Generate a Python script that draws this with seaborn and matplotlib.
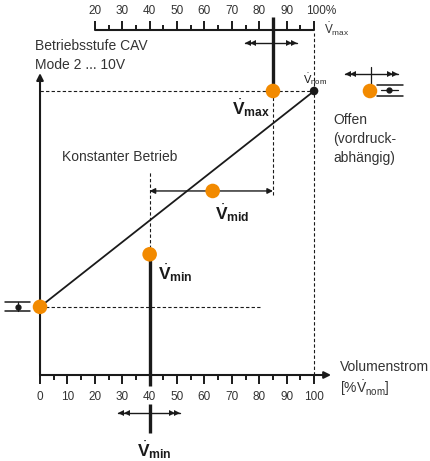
import numpy as np
import pandas as pd
import seaborn as sns
import matplotlib
matplotlib.use("Agg")
import matplotlib.pyplot as plt

sns.set_theme(style="white")
plt.rcParams['font.family'] = ['Liberation Sans', 'DejaVu Sans']
plt.rcParams['mathtext.fontset'] = 'custom'
plt.rcParams['mathtext.rm'] = 'Liberation Sans'
plt.rcParams['mathtext.bf'] = 'Liberation Sans:bold'
plt.rcParams['mathtext.it'] = 'Liberation Sans:italic'

# ---- data ----
bottom_ticks = list(range(0, 101, 5))
bottom_labels = [str(v) for v in range(0, 101, 10)]
top_ticks = list(range(20, 101, 5))
top_labels = ["20", "30", "40", "50", "60", "70", "80", "90", "100%"]

line_x = [0, 100]
line_y = [24, 100]

point_names = ["start", "V_min", "V_mid", "V_max", "offen"]
point_x = [0, 40, 63, 85, 120.4]
point_y = [24, 42.5, 64.8, 100, 100]

nom_x = [100]
nom_y = [100]

ORANGE = "#F28A00"
INK = "#1a1a1a"
TXT = "#333333"

fig = plt.figure(figsize=(4.30, 4.61), dpi=100)
ax = fig.add_axes([0, 0, 1, 1])
ax.set_xlim(-14.6, 142.3)
ax.set_ylim(-30.28, 132.04)
ax.axis("off")

dash = dict(color=INK, lw=0.8, ls=(0, (3, 2)))

# axes
ax.annotate("", xy=(0, 106.3), xytext=(0, 0),
            arrowprops=dict(arrowstyle="-|>", color=INK, lw=1.5, mutation_scale=10, shrinkA=0, shrinkB=0))
ax.annotate("", xy=(106.2, 0), xytext=(0, 0),
            arrowprops=dict(arrowstyle="-|>", color=INK, lw=1.5, mutation_scale=10, shrinkA=0, shrinkB=0))
for t in bottom_ticks:
    L = 3.2 if t % 10 == 0 else 1.9
    ax.plot([t, t], [0, -L], color=INK, lw=1.4, solid_capstyle="butt")
for lab in bottom_labels:
    x = int(lab)
    ax.text(x, -7.6, lab, ha="center", va="center", fontsize=8.5, color=TXT)

# top axis
ax.plot([top_ticks[0], top_ticks[-1]], [121.5, 121.5], color=INK, lw=1.5)
for t in top_ticks:
    L = 3.2 if t % 10 == 0 else 1.9
    ax.plot([t, t], [121.5, 121.5 + L], color=INK, lw=1.4, solid_capstyle="butt")
for t, lab in zip(range(20, 101, 10), top_labels):
    ax.text(t if lab != "100%" else t + 2.5, 128.2, lab, ha="center", va="center", fontsize=8.5, color=TXT)
ax.text(103.6, 121.8, r"$\dot{\mathrm{V}}_{\mathrm{max}}$", ha="left", va="center", fontsize=8.5, color=TXT)

# dashed guides
ax.plot([0, 100], [100, 100], **dash)
ax.plot([100, 100], [0, 120.5], **dash)
ax.plot([85, 85], [63.4, 100], **dash)
ax.plot([40, 40], [42.5, 71.5], **dash)
ax.plot([0, 81], [24, 24], **dash)

# main line
sns.lineplot(x=line_x, y=line_y, ax=ax, color=INK, lw=1.3)

# thick setpoint lines
ax.plot([85, 85], [100, 126], color=INK, lw=2.4, solid_capstyle="butt")
ax.plot([40, 40], [-3.9, 42.5], color=INK, lw=2.4, solid_capstyle="butt")
ax.plot([40, 40], [-10.2, -20.4], color=INK, lw=2.4, solid_capstyle="butt")
ax.plot([120.7, 120.7], [100, 108.6], color=INK, lw=0.9)

# double-headed arrows (<<--+-->>)
def dbl_arrow(x0, x1, y, ms=5):
    ax.plot([x0, x1], [y, y], color=INK, lw=1.0)
    off = 2.0
    ax.plot([x0 + 1.0, x0 + 1.0 + off], [y, y], ls="none", marker="<", ms=ms, color=INK, mew=0)
    ax.plot([x1 - 1.0, x1 - 1.0 - off], [y, y], ls="none", marker=">", ms=ms, color=INK, mew=0)

dbl_arrow(28.6, 51.0, -13.3)
dbl_arrow(74.8, 93.7, 117.0)
dbl_arrow(111.3, 130.7, 106.0)

# V_mid range arrow
ax.annotate("", xy=(40, 64.8), xytext=(85, 64.8),
            arrowprops=dict(arrowstyle="<|-|>", color=INK, lw=1.0, mutation_scale=8, shrinkA=0, shrinkB=0))

# small symbols
ax.plot([-12.8, -3.6], [25.7, 25.7], color=INK, lw=1.1)
ax.plot([-12.8, -3.6], [22.5, 22.5], color=INK, lw=1.1)
ax.plot([-8.2, -8.2], [22.5, 25.7], color=INK, lw=0.9)
ax.plot([-8.2], [24.1], ls="none", marker="o", ms=3.5, color=INK)
ax.plot([122.9, 132.3], [102.1, 102.1], color=INK, lw=1.1)
ax.plot([122.9, 132.3], [98.3, 98.3], color=INK, lw=1.1)
ax.plot([124.5, 130.5], [100.2, 100.2], color=INK, lw=0.9)
ax.plot([127.3], [100.2], ls="none", marker="o", ms=3.5, color=INK)

# points
pts = pd.DataFrame({"name": point_names, "x": point_x, "y": point_y})
sns.scatterplot(data=pts, x="x", y="y", ax=ax, color=ORANGE, s=110, edgecolor="none", zorder=5, legend=False)
sns.scatterplot(x=nom_x, y=nom_y, ax=ax, color=INK, s=38, edgecolor="none", zorder=5, legend=False)

# texts
ax.text(-1.8, 115.8, "Betriebsstufe CAV", ha="left", va="center", fontsize=10, color=TXT)
ax.text(-1.8, 109.3, "Mode 2 ... 10V", ha="left", va="center", fontsize=10, color=TXT)
ax.text(100.4, 104.3, r"$\dot{\mathrm{V}}_{\mathrm{nom}}$", ha="center", va="center", fontsize=8, color=INK)
ax.text(70.0, 94.0, r"$\dot{\mathbf{V}}_{\mathbf{max}}$", ha="left", va="center", fontsize=12.5, color=INK)
ax.text(64.0, 57.0, r"$\dot{\mathbf{V}}_{\mathbf{mid}}$", ha="left", va="center", fontsize=12.5, color=INK)
ax.text(43.0, 36.0, r"$\dot{\mathbf{V}}_{\mathbf{min}}$", ha="left", va="center", fontsize=12.5, color=INK)
ax.text(35.5, -26.5, r"$\dot{\mathbf{V}}_{\mathbf{min}}$", ha="left", va="center", fontsize=12.5, color=INK)
ax.text(107.0, 89.8, "Offen", ha="left", va="center", fontsize=10, color=TXT)
ax.text(107.0, 83.1, "(vordruck-", ha="left", va="center", fontsize=10, color=TXT)
ax.text(107.0, 76.4, "abhängig)", ha="left", va="center", fontsize=10, color=TXT)
ax.text(8.0, 76.9, "Konstanter Betrieb", ha="left", va="center", fontsize=10, color=TXT)
ax.text(109.5, 2.9, "Volumenstrom", ha="left", va="center", fontsize=10, color=TXT)
ax.text(109.5, -4.6, r"[%$\dot{\mathrm{V}}_{\mathrm{nom}}$]", ha="left", va="center", fontsize=10, color=TXT)

fig.savefig("out.png", dpi=100)
